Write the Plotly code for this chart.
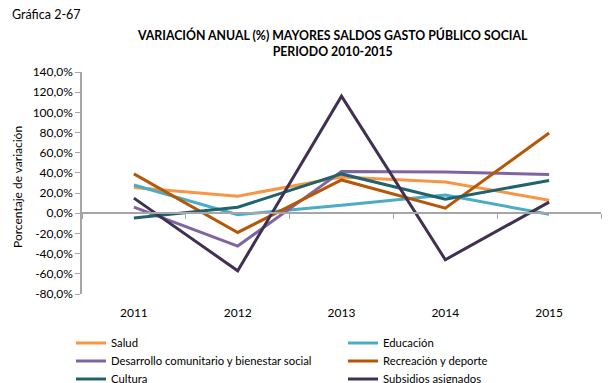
import plotly.graph_objects as go

years = ["2011", "2012", "2013", "2014", "2015"]

salud = [25.5, 17.0, 36.0, 31.0, 13.0]
educacion = [28.0, -1.5, 8.0, 18.0, -1.0]
desarrollo = [6.0, -32.5, 41.5, 41.0, 38.5]
recreacion = [39.0, -19.0, 33.0, 5.0, 79.5]
cultura = [-4.6, 6.0, 39.0, 14.0, 32.5]
subsidios = [15.0, -57.0, 116.0, -46.0, 11.0]

series_names = ["Salud", "Educación", "Desarrollo comunitario y bienestar social",
                "Recreación y deporte", "Cultura", "Subsidios asignados"]
series_values = [salud, educacion, desarrollo, recreacion, cultura, subsidios]
series_colors = ["#F79646", "#4BACC6", "#8064A2", "#B65708", "#20636E", "#403152"]

y_ticks = list(range(-80, 141, 20))
y_tick_text = [f"{v},0%" for v in y_ticks]

FONT = "Lato"
AXIS_GREY = "#A6A6A6"
PW, PH = 519, 222  # plot area size in px

fig = go.Figure()
idx = list(range(len(years)))
legend_layout = {}
for i, (name, vals, color) in enumerate(zip(series_names, series_values, series_colors)):
    key = "legend" if i == 0 else f"legend{i + 1}"
    fig.add_trace(go.Scatter(
        x=idx, y=vals, name=name, mode="lines",
        line=dict(color=color, width=3),
        legend=key, hoverinfo="skip",
    ))
    # two-column key below the plot: one legend box per entry
    col, row = i % 2, i // 2
    legend_layout[key] = dict(
        orientation="v", xanchor="left", yanchor="top",
        x=(-11 + 272 * col) / PW, y=-(34.5 + 18 * row) / PH,
        font=dict(family=FONT, size=11.3), itemwidth=30,
        bgcolor="rgba(0,0,0,0)",
    )

# helper trace that carries the category axis along the zero line
fig.add_trace(go.Scatter(
    x=[idx[0]], y=[0], xaxis="x2", mode="markers",
    marker=dict(opacity=0), showlegend=False, hoverinfo="skip",
))

y_min, y_max = -80, 140
zero_frac = (0 - y_min) / (y_max - y_min)

fig.update_layout(
    width=609, height=383,
    margin=dict(l=82, r=8, t=72, b=89, autoexpand=False),
    paper_bgcolor="white", plot_bgcolor="white",
    font=dict(family=FONT, size=12, color="#000000"),
    showlegend=True,
    **legend_layout,
    xaxis=dict(
        range=[-0.5, 4.5], tickmode="array", tickvals=idx, ticktext=years,
        showline=False, showgrid=False, zeroline=False, ticks="",
        tickfont=dict(family=FONT, size=12), ticklabelstandoff=10,
    ),
    xaxis2=dict(
        range=[-0.5, 4.5], overlaying="x", anchor="free", position=zero_frac,
        side="bottom", showline=True, linecolor=AXIS_GREY, linewidth=1.5,
        tickmode="array", tickvals=[i - 0.5 for i in range(len(years) + 1)],
        ticks="outside", ticklen=5, tickcolor=AXIS_GREY, tickwidth=1,
        showticklabels=False, showgrid=False, zeroline=False,
    ),
    yaxis=dict(
        range=[y_min, y_max], tickmode="array", tickvals=y_ticks,
        ticktext=y_tick_text, showline=True, linecolor=AXIS_GREY, linewidth=1.5,
        ticks="outside", ticklen=5, tickcolor=AXIS_GREY,
        showgrid=False, zeroline=False,
        tickfont=dict(family=FONT, size=12),
    ),
    annotations=[
        dict(text="Gráfica 2-67", xref="paper", yref="paper",
             x=-72 / PW, y=1 + 57 / PH, xanchor="left", yanchor="middle",
             showarrow=False, font=dict(family=FONT, size=12.5)),
        dict(text="<b>VARIACIÓN ANUAL (%) MAYORES SALDOS GASTO PÚBLICO SOCIAL<br>PERIODO 2010-2015</b>",
             xref="paper", yref="paper", x=(332 - 82) / PW, y=1 + 29 / PH,
             xanchor="center", yanchor="middle", showarrow=False,
             font=dict(family=FONT, size=12.3)),
        dict(text="Porcentaje de variación", xref="paper", yref="paper",
             x=-65 / PW, y=(294 - 187) / PH, xanchor="center", yanchor="middle",
             textangle=-90, showarrow=False, font=dict(family=FONT, size=12)),
    ],
)

fig.write_html("out.html")
